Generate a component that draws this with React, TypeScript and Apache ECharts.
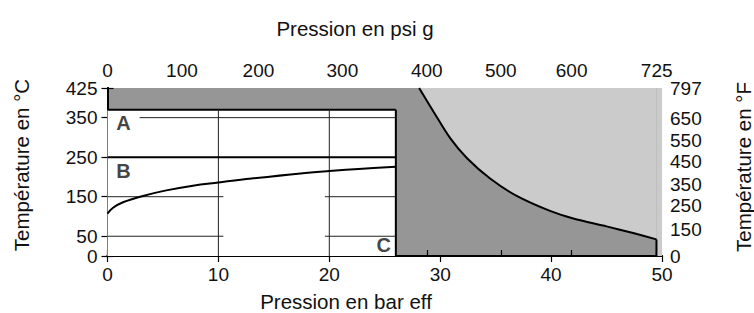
import React, { useEffect, useRef } from "react";
import * as echarts from "echarts";

// Bottom axis (bar eff)
const barTicks = [0, 10, 20, 30, 40, 50];
// Top axis (psi g): labels and their positions read on the bar scale
const psiLabels = ["0", "100", "200", "300", "400", "500", "600", "725"];
const psiPositions = [0, 6.71, 13.61, 21.18, 28.79, 35.46, 41.85, 49.52];
// Left axis (°C)
const celsiusTicks = [0, 50, 150, 250, 350, 425];
// Right axis (°F): labels and positions on the °C scale
const fahrenheitLabels = ["0", "150", "250", "350", "450", "550", "650", "797"];
const fahrenheitPositions = [0, 67.5, 126.5, 180.4, 240.3, 292.7, 346.6, 425];

// Curve B, [bar, °C]
const curveB = [
  [0, 107], [0.5, 122], [1.4, 136], [3.2, 152], [5.3, 166], [7.7, 178],
  [10, 186], [13, 196], [17.4, 209], [20, 215], [23, 221], [26, 226],
];
// Right limit curve, [bar, °C]
const limitCurve = [
  [28.1, 425], [29.4, 365], [30.9, 298], [32.4, 248], [34.5, 196],
  [36.9, 152], [39.9, 114], [42, 95], [45, 75], [47.4, 58], [49.5, 42],
];
const limitDrop = [[49.5, 42], [49.5, 0]];
const rightStrip = [[49.5, 0], [50, 0]];
// White box A/B/C
const boxTop = [[0, 370], [26, 370]];
const boxRight = [[26, 0], [26, 370]];
const lineB = [[0, 250], [26, 250]];
// Thin grid segments
const thinSegments = [
  [[2.9, 350], [26, 350]],
  [[0, 150], [10.45, 150]],
  [[19.6, 150], [26, 150]],
  [[0, 50], [10.45, 50]],
  [[19.6, 50], [26, 50]],
  [[10, 0], [10, 370]],
  [[20, 0], [20, 370]],
];
// Zone labels
const zoneLabels = [
  { name: "A", value: [1.45, 336] },
  { name: "B", value: [1.45, 216] },
  { name: "C", value: [24.9, 28] },
];
// Axis titles
const titleTop = "Pression en psi g";
const titleBottom = "Pression en bar eff";
const titleLeft = "Température en °C";
const titleRight = "Température en °F";

const FONT = "'Liberation Sans', Arial, sans-serif";
const TXT = "#111";
const DARK = "#969696";
const LIGHT = "#cbcbcb";

export default function App() {
  const ref = useRef<HTMLDivElement>(null);
  useEffect(() => {
    if (!ref.current) return;
    const chart = echarts.init(ref.current, null, { renderer: "svg" });
    const axisLine = { show: true, lineStyle: { color: "#000", width: 2 } };
    const axisTick = { show: true, length: 6, lineStyle: { color: "#000", width: 1.2 } };
    const labelBase = { color: TXT, fontSize: 19, fontFamily: FONT };
    const titleStyle = { fill: TXT, fontSize: 20.5, fontFamily: FONT, align: "center", verticalAlign: "middle" };

    const series: any[] = [];
    series.push({
      type: "line", data: limitCurve, showSymbol: false, silent: true, z: 1, smooth: 0.3,
      lineStyle: { width: 0 }, areaStyle: { color: LIGHT, opacity: 1, origin: "end" },
    });
    series.push({
      type: "line", data: rightStrip, showSymbol: false, silent: true, z: 1,
      lineStyle: { width: 0 }, areaStyle: { color: LIGHT, opacity: 1, origin: "end" },
    });
    series.push({
      type: "line", data: limitCurve, showSymbol: false, silent: true, z: 3, smooth: 0.3,
      lineStyle: { color: "#000", width: 2 },
    });
    series.push({
      type: "line", data: limitDrop, showSymbol: false, silent: true, z: 3,
      lineStyle: { color: "#000", width: 2 },
    });
    series.push({
      type: "line", data: boxTop, showSymbol: false, silent: true, z: 3,
      lineStyle: { color: "#000", width: 2 }, areaStyle: { color: "#ffffff", opacity: 1 },
    });
    thinSegments.forEach((seg) => {
      series.push({
        type: "line", data: seg, showSymbol: false, silent: true, z: 4,
        lineStyle: { color: "#222", width: 1 },
      });
    });
    series.push({
      type: "line", data: lineB, showSymbol: false, silent: true, z: 5,
      lineStyle: { color: "#000", width: 2 },
    });
    series.push({
      type: "line", data: boxRight, showSymbol: false, silent: true, z: 5,
      lineStyle: { color: "#000", width: 2 },
    });
    series.push({
      type: "line", data: curveB, showSymbol: false, silent: true, z: 6, smooth: 0.4,
      lineStyle: { color: "#000", width: 2 },
    });
    series.push({
      type: "scatter", data: zoneLabels, symbolSize: 0, silent: true, z: 7,
      label: {
        show: true, position: "inside", formatter: "{b}",
        color: "#111", fontSize: 20, fontWeight: "bold", fontFamily: FONT,
      },
    });

    chart.setOption({
      animation: false,
      textStyle: { fontFamily: FONT },
      grid: {
        left: 107.5, right: 92, top: 88, bottom: 57,
        show: true, backgroundColor: DARK, borderWidth: 0,
      },
      graphic: [
        { type: "text", x: 355, y: 28, style: { ...titleStyle, text: titleTop } },
        { type: "text", x: 346, y: 301.5, style: { ...titleStyle, text: titleBottom } },
        { type: "text", x: 21, y: 165, rotation: Math.PI / 2, style: { ...titleStyle, text: titleLeft } },
        { type: "text", x: 743, y: 167, rotation: Math.PI / 2, style: { ...titleStyle, text: titleRight } },
      ],
      xAxis: [
        {
          type: "value", position: "bottom", min: 0, max: 50, interval: 10,
          axisLine, axisTick, splitLine: { show: false },
          axisLabel: { ...labelBase, margin: 9, customValues: barTicks },
        },
        {
          type: "value", position: "top", min: 0, max: 50,
          axisLine, splitLine: { show: false },
          axisTick: { ...axisTick, customValues: psiPositions },
          axisLabel: {
            ...labelBase, margin: 8, customValues: psiPositions,
            formatter: (v: number) => {
              const i = psiPositions.findIndex((p) => Math.abs(p - v) < 1e-6);
              return i >= 0 ? psiLabels[i] : "";
            },
          },
        },
      ],
      yAxis: [
        {
          type: "value", position: "left", min: 0, max: 425,
          axisLine, splitLine: { show: false },
          axisTick: { ...axisTick, customValues: celsiusTicks },
          axisLabel: { ...labelBase, margin: 10, customValues: celsiusTicks },
        },
        {
          type: "value", position: "right", min: 0, max: 425,
          axisLine, splitLine: { show: false },
          axisTick: { ...axisTick, customValues: fahrenheitPositions },
          axisLabel: {
            ...labelBase, margin: 8, customValues: fahrenheitPositions,
            formatter: (v: number) => {
              const i = fahrenheitPositions.findIndex((p) => Math.abs(p - v) < 1e-6);
              return i >= 0 ? fahrenheitLabels[i] : "";
            },
          },
        },
      ],
      series,
    });
    return () => chart.dispose();
  }, []);
  return (
    <div
      ref={ref}
      style={{ position: "fixed", left: 0, top: 0, width: 754, height: 313, background: "#fff" }}
    />
  );
}
